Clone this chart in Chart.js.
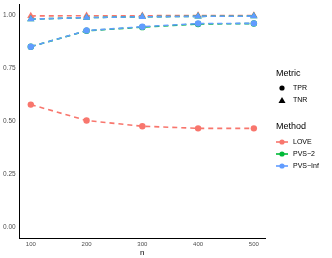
<!DOCTYPE html>
<html><head><meta charset="utf-8">
<script src="https://cdn.jsdelivr.net/npm/chart.js@4/dist/chart.umd.min.js"></script>
<style>html,body{margin:0;padding:0;background:#fff;}#wrap{width:332px;height:258px;position:relative;}</style>
</head><body><div id="wrap"><canvas id="c" width="332" height="258"></canvas></div>
<script>
const nValues = [100, 200, 300, 400, 500];
const yTicks = [0, 0.25, 0.5, 0.75, 1.0];
const methods = ["LOVE", "PVS\u22122", "PVS\u2212Inf"];
const metrics = ["TPR", "TNR"];
const loveTPR = [0.58, 0.505, 0.478, 0.468, 0.468];
const pvs2TPR = [0.853, 0.928, 0.945, 0.960, 0.962];
const pvsInfTPR = [0.853, 0.929, 0.947, 0.962, 0.963];
const loveTNR = [0.998, 0.999, 0.999, 1.0, 1.0];
const pvs2TNR = [0.983, 0.990, 0.994, 0.996, 0.997];
const pvsInfTNR = [0.983, 0.990, 0.994, 0.996, 0.997];

const colors = ["#F8766D", "#00BA38", "#619CFF"];
const seriesTPR = [loveTPR, pvs2TPR, pvsInfTPR];
const seriesTNR = [loveTNR, pvs2TNR, pvsInfTNR];

const datasets = [];
methods.forEach((m, i) => {
  datasets.push({label: m + " TPR", order: 10 - i, data: nValues.map((n, k) => ({x: n, y: seriesTPR[i][k]})),
    borderColor: colors[i], backgroundColor: colors[i], borderWidth: 1.6, borderDash: [5, 4],
    pointStyle: "circle", pointRadius: 3.2, pointBorderWidth: 0, tension: 0});
});
methods.forEach((m, i) => {
  datasets.push({label: m + " TNR", order: 10 - i, data: nValues.map((n, k) => ({x: n, y: seriesTNR[i][k]})),
    borderColor: colors[i], backgroundColor: colors[i], borderWidth: 1.6, borderDash: [5, 4],
    pointStyle: "triangle", pointRadius: 4.2, pointBorderWidth: 0, tension: 0});
});

const legendPlugin = {
  id: "ggLegend",
  afterDraw(chart) {
    const ctx = chart.ctx;
    ctx.save();
    ctx.fillStyle = "#000";
    ctx.textBaseline = "middle";
    ctx.textAlign = "left";
    ctx.font = "9px 'Liberation Sans', Arial, sans-serif";
    ctx.fillText("Metric", 276, 74);
    ctx.fillText("Method", 276, 127);
    ctx.font = "7px 'Liberation Sans', Arial, sans-serif";
    ctx.beginPath(); ctx.arc(282, 88, 2.6, 0, Math.PI * 2); ctx.fill();
    ctx.fillText("TPR", 293, 88.5);
    ctx.beginPath(); ctx.moveTo(282, 97); ctx.lineTo(285.5, 103); ctx.lineTo(278.5, 103); ctx.closePath(); ctx.fill();
    ctx.fillText("TNR", 293, 100.5);
    methods.forEach((m, i) => {
      const y = 142 + i * 12;
      ctx.strokeStyle = colors[i]; ctx.fillStyle = colors[i];
      ctx.lineWidth = 1.6;
      ctx.beginPath(); ctx.moveTo(276, y); ctx.lineTo(288, y); ctx.stroke();
      ctx.beginPath(); ctx.arc(282, y, 2.6, 0, Math.PI * 2); ctx.fill();
      ctx.fillStyle = "#000";
      ctx.fillText(m, 293, y + 0.5);
    });
    ctx.restore();
  }
};

new Chart(document.getElementById("c"), {
  type: "line",
  data: {datasets},
  options: {
    responsive: false, animation: false,
    layout: {padding: {left: 2, right: 67, top: 3, bottom: 0}},
    plugins: {legend: {display: false}, tooltip: {enabled: false}},
    scales: {
      x: {type: "linear", min: 80, max: 520,
        afterBuildTicks(s) { s.ticks = nValues.map(v => ({value: v})); },
        grid: {display: false, drawTicks: true, tickLength: 3, tickColor: "#333"},
        border: {display: true, color: "#000", width: 1},
        ticks: {color: "#4d4d4d", font: {size: 6, family: "'Liberation Sans', Arial, sans-serif"}, padding: 0, maxRotation: 0},
        title: {display: true, text: "n", color: "#000", font: {size: 8, family: "'Liberation Sans', Arial, sans-serif"}, padding: {top: 0, bottom: 0}}
      },
      y: {type: "linear", min: -0.05, max: 1.05,
        afterBuildTicks(s) { s.ticks = yTicks.map(v => ({value: v})); },
        grid: {display: false, drawTicks: true, tickLength: 3, tickColor: "#333"},
        border: {display: true, color: "#000", width: 1},
        ticks: {color: "#4d4d4d", font: {size: 6.5, family: "'Liberation Sans', Arial, sans-serif"}, padding: 1,
          callback: v => v.toFixed(2)}
      }
    }
  },
  plugins: [legendPlugin]
});
</script></body></html>
